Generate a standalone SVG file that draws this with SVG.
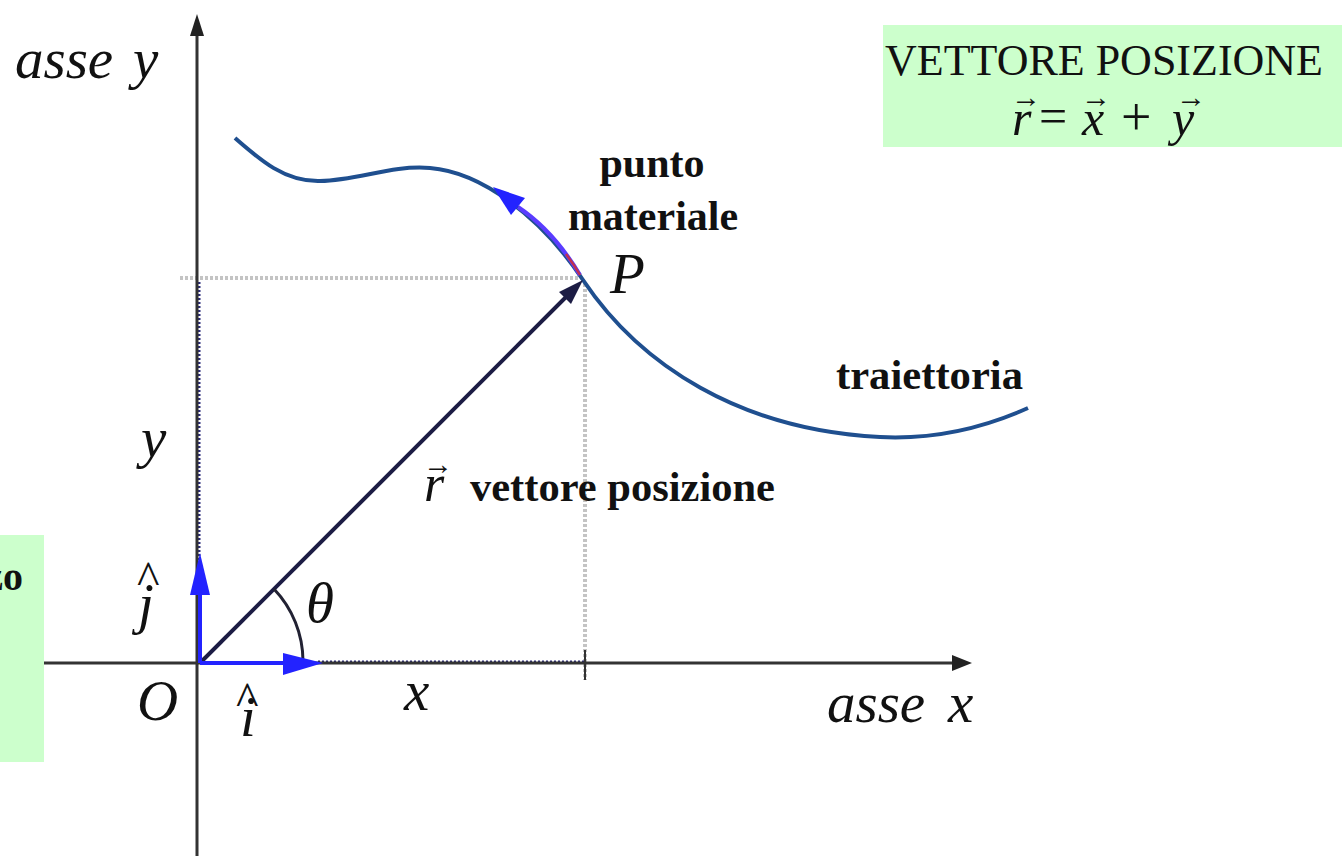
<svg xmlns="http://www.w3.org/2000/svg" width="1342" height="856" viewBox="0 0 1342 856">
<defs>
<style>
.it{font-family:"Liberation Serif","Times New Roman",serif;font-style:italic;fill:#111}
.bd{font-family:"Liberation Serif","Times New Roman",serif;font-weight:bold;fill:#111}
.box{fill:#ccffcc}
.bx{font-family:"Liberation Serif","Times New Roman",serif;fill:#111}
.axis{stroke:#333;stroke-width:3;fill:none}
.gdot{stroke:#c4c4c4;stroke-width:4;stroke-dasharray:3 2;fill:none}
.bdot{stroke:#2a2a7a;stroke-width:3;stroke-dasharray:2 2;fill:none}
.unit{stroke:#2323ff;stroke-width:4;fill:none}
</style>
</defs>
<rect width="1342" height="856" fill="#fff"/>
<g id="box-left">
<rect class="box" x="0" y="535" width="44" height="227"/>
<text class="bd" x="23" y="590" font-size="40" text-anchor="end">zo</text>
</g>
<g id="box-right">
<rect class="box" x="883" y="25" width="459" height="122"/>
<text class="bx" x="1104" y="75" font-size="44" text-anchor="middle">VETTORE POSIZIONE</text>
<text class="it" x="1012" y="135" font-size="50">r</text>
<text class="bx" x="1011" y="107" font-size="30">→</text>
<text class="bx" x="1039" y="133" font-size="50">=</text>
<text class="it" x="1082" y="135" font-size="50">x</text>
<text class="bx" x="1081" y="107" font-size="30">→</text>
<text class="bx" x="1121" y="135" font-size="54">+</text>
<text class="it" x="1172" y="135" font-size="50">y</text>
<text class="bx" x="1176" y="107" font-size="30">→</text>
</g>
<g id="connectors">
<line class="gdot" x1="180" y1="278" x2="578" y2="278"/>
<line class="gdot" x1="585" y1="284" x2="585" y2="680"/>
<line class="bdot" x1="199" y1="282" x2="199" y2="560"/>
<line class="bdot" x1="318" y1="662" x2="585" y2="662"/>
<line class="axis" x1="197" y1="30" x2="197" y2="856"/>
<polygon points="197,14 190,36 204,36" fill="#222"/>
<line class="axis" x1="44" y1="663" x2="958" y2="663"/>
<polygon points="972,663 952,655 952,671" fill="#222"/>
<line stroke="#333" stroke-width="2" x1="585" y1="650" x2="585" y2="680"/>
<path d="M235,138 C260,160 285,182 320,181 C360,180 390,165 430,168 C480,172 540,215 583,280 C640,365 740,430 880,437 C940,440 990,425 1028,408" fill="none" stroke="#1f4f8f" stroke-width="4"/>
<path d="M580,275 C565,250 545,225 518,207" fill="none" stroke="#5a3cff" stroke-width="4"/>
<path d="M566,254 C572,262 576,268 580,275" fill="none" stroke="#c03050" stroke-width="2.5"/>
<polygon points="493,187 525,198 511,215" fill="#2323ff"/>
<line x1="200" y1="663" x2="570" y2="293" stroke="#1c1c44" stroke-width="4"/>
<polygon points="583,280 559,292 571,304" fill="#1c1c44"/>
<path d="M274,589 A105,105 0 0 1 303,661" fill="none" stroke="#223" stroke-width="3"/>
<line class="unit" x1="200" y1="663" x2="200" y2="590"/>
<polygon points="200,553 190,595 210,595" fill="#2323ff"/>
<line class="unit" x1="200" y1="663" x2="290" y2="663"/>
<polygon points="323,663 283,653 283,675" fill="#2323ff"/>
</g>
<g id="labels">
<text class="it" x="15" y="78" font-size="57">asse</text>
<text class="it" x="133" y="78" font-size="57">y</text>
<text class="bd" x="652" y="177" font-size="42" text-anchor="middle">punto</text>
<text class="bd" x="653" y="230" font-size="42" text-anchor="middle">materiale</text>
<text class="it" x="610" y="293" font-size="57">P</text>
<text class="bd" x="836" y="389" font-size="42" textLength="187" lengthAdjust="spacingAndGlyphs">traiettoria</text>
<text class="it" x="141" y="457" font-size="57">y</text>
<text class="it" x="424" y="501" font-size="52">r</text>
<text class="bx" x="423" y="474" font-size="30">→</text>
<text class="bd" x="470" y="501" font-size="42" textLength="305" lengthAdjust="spacingAndGlyphs">vettore posizione</text>
<text class="it" x="306" y="622" font-size="57">θ</text>
<text class="it" x="138" y="623" font-size="57">j</text>
<text class="bx" x="137" y="594" font-size="48">^</text>
<text class="it" x="137" y="720" font-size="57">O</text>
<text class="it" x="240" y="736" font-size="57">i</text>
<text class="bx" x="236" y="715" font-size="48">^</text>
<text class="it" x="404" y="710" font-size="57">x</text>
<text class="it" x="827" y="722" font-size="57">asse</text>
<text class="it" x="948" y="722" font-size="57">x</text>
</g>
</svg>
